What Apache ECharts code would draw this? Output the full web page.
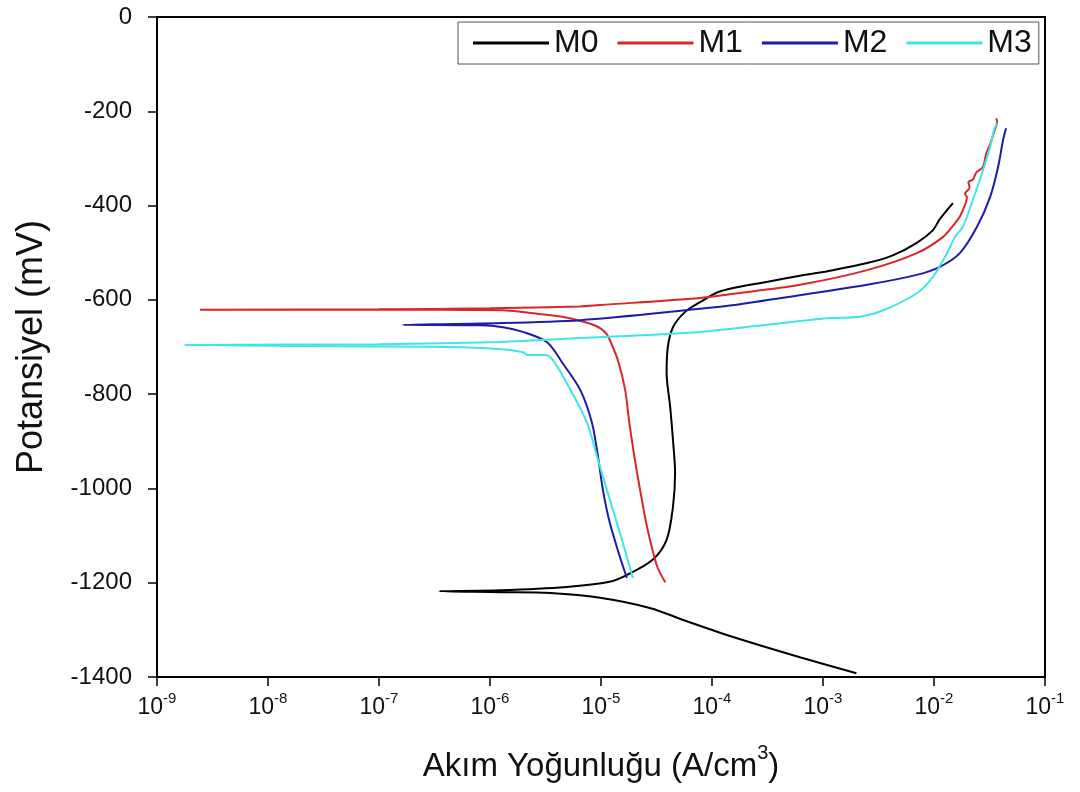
<!DOCTYPE html>
<html>
<head>
    <meta charset="utf-8">
    <script src="https://cdn.jsdelivr.net/npm/echarts@6/dist/echarts.min.js"></script>
    <style>
        html, body { margin: 0; padding: 0; background: #fff; }
    </style>
</head>
<body>
    <div id="main" style="width: 1080px;height:792px;"></div>
    <script type="text/javascript">
    // polarisation curves: current density (A/cm3) and potential (mV), in drawing order
    var names = ['M0', 'M1', 'M2', 'M3'];
    var colors = ['#000000', '#d8262a', '#1c1ca8', '#3ee6e6'];

    var m0Current = [2.0e-3, 6.2e-4, 1.55e-4, 5.5e-5, 2.8e-5, 9.8e-6, 3.5e-6, 1.23e-6, 3.5e-7,
        1.23e-6, 4.9e-6, 1.2e-5, 1.7e-5, 2.9e-5, 3.9e-5, 4.45e-5, 4.65e-5, 4.45e-5, 4.2e-5, 3.9e-5,
        4.0e-5, 4.45e-5, 5.7e-5, 7.8e-5, 1.1e-4, 1.55e-4, 3.1e-4, 6.2e-4, 1.23e-3, 2.5e-3, 4.3e-3,
        7.0e-3, 9.8e-3, 1.12e-2, 1.48e-2];
    var m0Potential = [-1392, -1358, -1315, -1279, -1254, -1232, -1222, -1220, -1218,
        -1216, -1209, -1198, -1184, -1152, -1109, -1039, -967, -897, -827, -755,
        -700, -658, -626, -605, -585, -575, -562, -549, -537, -522, -505,
        -479, -452, -430, -395];

    var m1Current = [3.8e-5, 3.2e-5, 2.6e-5, 2.25e-5, 2.0e-5, 1.8e-5, 1.65e-5, 1.42e-5, 1.2e-5, 1.12e-5,
        9.8e-6, 7.9e-6, 4.5e-6, 2.3e-6, 1.3e-6, 1e-7, 2.44e-9,
        1e-7, 1e-6, 6.5e-6, 9.8e-6, 7.8e-5, 1.45e-4, 6.2e-4, 2.5e-3, 7.0e-3, 1.2e-2, 1.55e-2, 1.74e-2,
        1.98e-2, 1.9e-2, 2.09e-2, 2.04e-2, 2.24e-2, 2.4e-2, 2.76e-2, 2.95e-2, 3.2e-2, 3.47e-2, 3.7e-2, 3.63e-2];
    var m1Potential = [-1199, -1165, -1082, -1003, -933, -861, -791, -728, -685, -672,
        -660, -650, -636, -628, -622, -621, -621,
        -620, -618, -614, -611, -596, -588, -568, -537, -501, -467, -437, -420,
        -382, -375, -362, -350, -345, -330, -318, -290, -270, -245, -222, -215];

    var m2Current = [1.71e-5, 1.48e-5, 1.2e-5, 1.04e-5, 9.4e-6, 8.3e-6, 6.5e-6, 4.5e-6, 3.27e-6, 1.98e-6,
        1.31e-6, 8.1e-7, 1.64e-7,
        8.1e-7, 6.5e-6, 7.8e-5, 1.45e-4, 6.2e-4, 2.5e-3, 7.0e-3, 1.13e-2, 1.71e-2, 2.44e-2, 3.2e-2,
        3.78e-2, 4.19e-2, 4.46e-2];
    var m2Potential = [-1190, -1145, -1073, -1003, -933, -861, -791, -734, -690, -668,
        -658, -654, -653,
        -650, -643, -619, -612, -590, -568, -547, -530, -501, -445, -382,
        -318, -261, -236];

    var m3Current = [1.94e-5, 1.71e-5, 1.39e-5, 1.13e-5, 9.4e-6, 7.5e-6, 5.3e-6, 3.7e-6, 3.16e-6, 2.15e-6,
        2.0e-6, 1.16e-6, 4.1e-7, 1.02e-7, 1.79e-9,
        1e-7, 1e-6, 6.5e-6, 7.8e-5, 3.1e-4, 1.09e-3, 2.15e-3, 3.5e-3, 7.0e-3, 9.8e-3, 1.31e-2, 1.55e-2,
        1.82e-2, 2.24e-2, 2.76e-2, 3.2e-2, 3.47e-2, 3.7e-2];
    var m3Potential = [-1190, -1145, -1073, -1003, -940, -861, -791, -728, -717, -717,
        -711, -704, -700, -699, -696,
        -694, -690, -681, -668, -653, -639, -636, -622, -586, -551, -501, -466,
        -445, -388, -325, -276, -240, -225];

    var yTicks = [-1400, -1200, -1000, -800, -600, -400, -200, 0];

    function pairs(xs, ys) {
        return xs.map(function (x, i) { return [x, ys[i]]; });
    }
    var curves = [pairs(m0Current, m0Potential), pairs(m1Current, m1Potential),
        pairs(m2Current, m2Potential), pairs(m3Current, m3Potential)];

    var font = 'Liberation Sans, Arial, sans-serif';
    var myChart = echarts.init(document.getElementById('main'));

    myChart.setOption({
        animation: false,
        backgroundColor: '#fff',
        grid: {
            left: 157, right: 35, top: 17, bottom: 115,
            show: true, borderColor: '#000', borderWidth: 2
        },
        legend: {
            data: names,
            left: 458, top: 22,
            icon: 'rect',
            itemWidth: 76, itemHeight: 3,
            itemGap: 19,
            padding: [5, 7, 5, 15],
            borderColor: '#555', borderWidth: 1,
            backgroundColor: '#fff',
            textStyle: { fontSize: 32, color: '#111', fontFamily: font }
        },
        xAxis: {
            type: 'log', logBase: 10,
            min: 1e-9, max: 1e-1,
            name: '{a|Akım Yoğunluğu (A/cm}{s|3}{a|)}',
            nameLocation: 'middle', nameGap: 66,
            nameTextStyle: {
                rich: {
                    a: { fontSize: 33, lineHeight: 40, verticalAlign: 'bottom', fontFamily: font, color: '#111' },
                    s: { fontSize: 20, lineHeight: 20, verticalAlign: 'top', fontFamily: font, color: '#111' }
                }
            },
            axisLine: { onZero: false, lineStyle: { color: '#000', width: 2 } },
            axisTick: { length: 9, lineStyle: { color: '#000', width: 1.5 } },
            splitLine: { show: false },
            axisLabel: {
                margin: 14,
                formatter: function (v) {
                    return '{b|10}{s|' + Math.round(Math.log10(v)) + '}';
                },
                rich: {
                    b: { fontSize: 23, color: '#111', fontFamily: font, verticalAlign: 'bottom', lineHeight: 28 },
                    s: { fontSize: 15, color: '#111', fontFamily: font, verticalAlign: 'top', lineHeight: 15 }
                }
            }
        },
        yAxis: {
            type: 'value',
            min: yTicks[0], max: yTicks[yTicks.length - 1], interval: 200,
            name: 'Potansiyel (mV)',
            nameLocation: 'middle', nameGap: 107,
            nameTextStyle: { fontSize: 36, color: '#111', fontFamily: font },
            axisLine: { onZero: false, lineStyle: { color: '#000', width: 2 } },
            axisTick: { length: 9, lineStyle: { color: '#000', width: 1.5 } },
            splitLine: { show: false },
            axisLabel: {
                margin: 25, fontSize: 24, color: '#111', fontFamily: font,
                formatter: function (v) { return String(v); }
            }
        },
        series: curves.map(function (d, i) {
            return {
                name: names[i],
                type: 'line',
                data: d,
                showSymbol: false,
                smooth: 0.3,
                color: colors[i],
                lineStyle: { width: 2, color: colors[i] }
            };
        })
    });
    </script>
</body>
</html>
